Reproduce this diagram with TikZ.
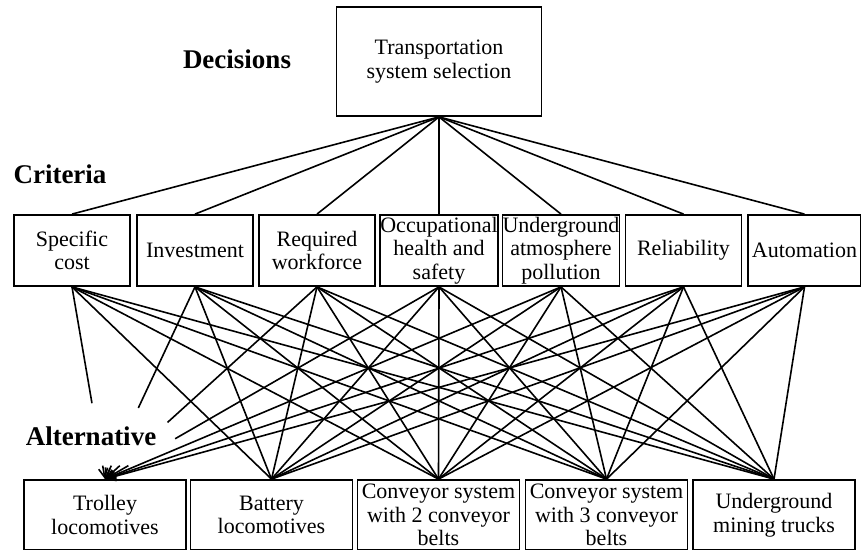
\documentclass[tikz,border=0pt]{standalone}
\usepackage{fontspec}
\setmainfont{Liberation Serif}
\usetikzlibrary{arrows.meta,calc}
\tikzset{every path/.style={black,line width=1.6pt}, box/.style={draw,line width=1.8pt,align=center,inner sep=0pt,font=\fontsize{22}{23.5}\selectfont}, crit/.style={box,minimum width=116pt,minimum height=71pt}, alter/.style={box,minimum width=162pt,minimum height=70pt}, level/.style={font=\bfseries\fontsize{27}{30}\selectfont}, tip/.style={-{Straight Barb[length=9pt,width=9pt]}}}

\begin{document}
\begin{tikzpicture}[x=1pt,y=-1pt]
   \useasboundingbox (0,0) rectangle (861,549);
   % levels
   \node[level] (dec) at (237,59) {Decisions};
   \node[level] (cri) at (60,174) {Criteria};
   \node[level] (alt) at (91,436) {Alternative};
   % goal
   \node[box,minimum width=205pt,minimum height=109pt] (goal) at (439,61.5) {Transportation\\system selection};
   % criteria
   \node[crit] (c1) at (72,250.5) {Specific\\cost};
   \node[crit] (c2) at (195,250.5) {Investment};
   \node[crit] (c3) at (317,250.5) {Required\\workforce};
   \node[crit] (c4) at (439,250.5) {Occupational\\health and\\safety};
   \node[crit] (c5) at (561,250.5) {Underground\\atmosphere\\pollution};
   \node[crit] (c6) at (683.5,250.5) {Reliability};
   \node[crit,minimum width=113pt] (c7) at (804.5,250.5) {Automation};
   % alternatives
   \node[alter] (a1) at (105,515) {Trolley\\locomotives};
   \node[alter] (a2) at (271.5,515) {Battery\\locomotives};
   \node[alter] (a3) at (438.5,515) {Conveyor system\\with 2 conveyor\\belts};
   \node[alter] (a4) at (606.5,515) {Conveyor system\\with 3 conveyor\\belts};
   \node[alter] (a5) at (774,515) {Underground\\mining trucks};
   % links
   \foreach \i in {1,...,7} \draw (goal.south) -- (c\i.north);
   \foreach \i in {1,...,7} \foreach \j in {2,...,5} \draw (c\i.south) -- (a\j.north);
   \foreach \i in {5,6,7} \draw[tip] (c\i.south) -- (a1.north);
   \foreach \i/\t in {1/0.605,2/0.63,3/0.705,4/0.79} {
     \draw (c\i.south) -- ($(c\i.south)!\t!(a1.north)$);
     \draw[tip] ($(c\i.south)!0.93!(a1.north)$) -- (a1.north);
   }
\end{tikzpicture}
\end{document}
